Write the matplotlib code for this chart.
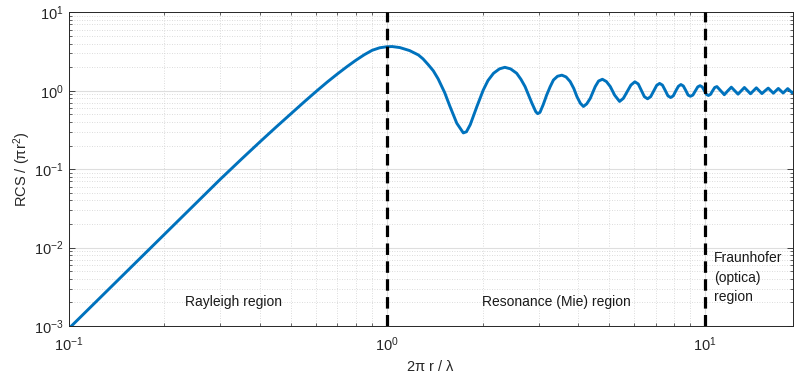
import matplotlib
matplotlib.use('Agg')
import matplotlib.pyplot as plt
import numpy as np

plt.rcParams['font.family'] = ['Liberation Sans', 'DejaVu Sans']
plt.rcParams['mathtext.default'] = 'regular'
plt.rcParams['mathtext.fontset'] = 'custom'
plt.rcParams['mathtext.rm'] = 'Liberation Sans'

# normalised size 2*pi*r/lambda (ka) and backscatter RCS / (pi r^2) of a sphere
ka = [0.10, 0.15, 0.20, 0.25, 0.30, 0.35, 0.40, 0.45, 0.50, 0.55,
      0.60, 0.65, 0.70, 0.75, 0.80, 0.85, 0.90, 0.95, 1.00, 1.04,
      1.10, 1.18, 1.257, 1.30, 1.35, 1.40, 1.45, 1.52, 1.58, 1.66,
      1.74, 1.78, 1.83, 1.92, 2.01, 2.08, 2.165, 2.26, 2.35, 2.45,
      2.56, 2.64, 2.72, 2.86, 2.94, 2.98, 3.03, 3.10, 3.18, 3.26,
      3.34, 3.44, 3.55, 3.66, 3.77, 3.87, 3.96, 4.06, 4.15, 4.25,
      4.36, 4.45, 4.52, 4.63, 4.76, 4.90, 5.04, 5.20, 5.39, 5.54,
      5.69, 5.85, 6.02, 6.17, 6.31, 6.45, 6.60, 6.75, 6.90, 7.05,
      7.20, 7.35, 7.50, 7.65, 7.80, 7.95, 8.10, 8.25, 8.40, 8.55,
      8.70, 8.85, 9.00, 9.16, 9.33, 9.49, 9.65, 9.80, 9.95, 10.10,
      10.25, 10.41, 10.57, 10.73, 10.90, 11.2, 11.5, 11.8, 12.1, 12.4,
      12.7, 13.0, 13.3, 13.6, 13.9, 14.2, 14.5, 14.8, 15.1, 15.45,
      15.8, 16.1, 16.4, 16.7, 17.0, 17.3, 17.6, 17.9, 18.2, 18.5,
      18.8, 19.0]
rcs = [0.00092, 0.00466, 0.0147, 0.0359, 0.0745, 0.135, 0.224, 0.347, 0.51, 0.72,
       0.98, 1.29, 1.64, 2.03, 2.45, 2.88, 3.28, 3.53, 3.64, 3.66,
       3.55, 3.25, 2.86, 2.55, 2.15, 1.80, 1.42, 0.95, 0.63, 0.385,
       0.29, 0.30, 0.37, 0.63, 1.02, 1.35, 1.67, 1.90, 1.99, 1.90,
       1.67, 1.40, 1.13, 0.69, 0.54, 0.51, 0.53, 0.66, 0.88, 1.12,
       1.37, 1.53, 1.58, 1.50, 1.31, 1.07, 0.84, 0.69, 0.63, 0.68,
       0.80, 0.97, 1.13, 1.33, 1.40, 1.31, 1.13, 0.88, 0.73, 0.80,
       0.97, 1.18, 1.30, 1.22, 1.01, 0.84, 0.79, 0.84, 0.99, 1.17,
       1.24, 1.18, 1.01, 0.86, 0.82, 0.86, 1.00, 1.14, 1.20, 1.15,
       1.01, 0.88, 0.85, 0.88, 1.00, 1.12, 1.16, 1.12, 1.01, 0.90,
       0.87, 0.90, 1.00, 1.10, 1.13, 1.00, 0.89, 1.00, 1.11, 1.00,
       0.905, 1.00, 1.10, 1.00, 0.915, 1.00, 1.09, 1.00, 0.92, 1.00,
       1.08, 1.00, 0.93, 1.00, 1.07, 1.00, 0.935, 1.00, 1.065, 1.00,
       0.94, 0.97]

region_bounds = [1.0, 10.0]

fig = plt.figure(figsize=(7.94, 3.79), dpi=100)
ax = fig.add_axes([0.0863, 0.1398, 0.9124, 0.8277])

ax.loglog(ka, rcs, '-', color='#0072BD', lw=2.1, zorder=3)
for xb in region_bounds:
    ax.axvline(xb, color='black', lw=2.3, dashes=(3.6, 2.0), zorder=4)

ax.set_xlim(0.1, 18.9)
ax.set_ylim(1e-3, 10)

ax.grid(True, which='major', color='#dedede', lw=0.8, ls='-')
ax.grid(True, which='minor', color='#d0d0d0', lw=0.6, ls=(0, (1, 2)))
ax.set_axisbelow(True)
ax.tick_params(which='both', direction='in', top=True, right=True,
               colors='#262626', labelsize=10.5)
ax.tick_params(which='major', length=4.5, width=0.6)
ax.tick_params(which='minor', length=2.5, width=0.5)
ax.tick_params(axis='x', pad=7)
for sp in ax.spines.values():
    sp.set_color('#262626')
    sp.set_linewidth(0.7)

ax.set_xlabel(r'2$\pi$ r / $\lambda$', fontsize=10.5, color='#262626', labelpad=3)
ax.set_ylabel(r'RCS / ($\pi$r$^2$)', fontsize=10.5, color='#262626', labelpad=1)

ax.text(0.33, 2.0e-3, 'Rayleigh region', fontsize=10, ha='center', va='center', color='#1a1a1a')
ax.text(3.4, 2.05e-3, 'Resonance (Mie) region', fontsize=10, ha='center', va='center', color='#1a1a1a')
ax.text(10.7, 4.1e-3, 'Fraunhofer\n(optica)\nregion', fontsize=10, ha='left', va='center',
        color='#1a1a1a', linespacing=1.5)

plt.savefig('out.png', dpi=100)
